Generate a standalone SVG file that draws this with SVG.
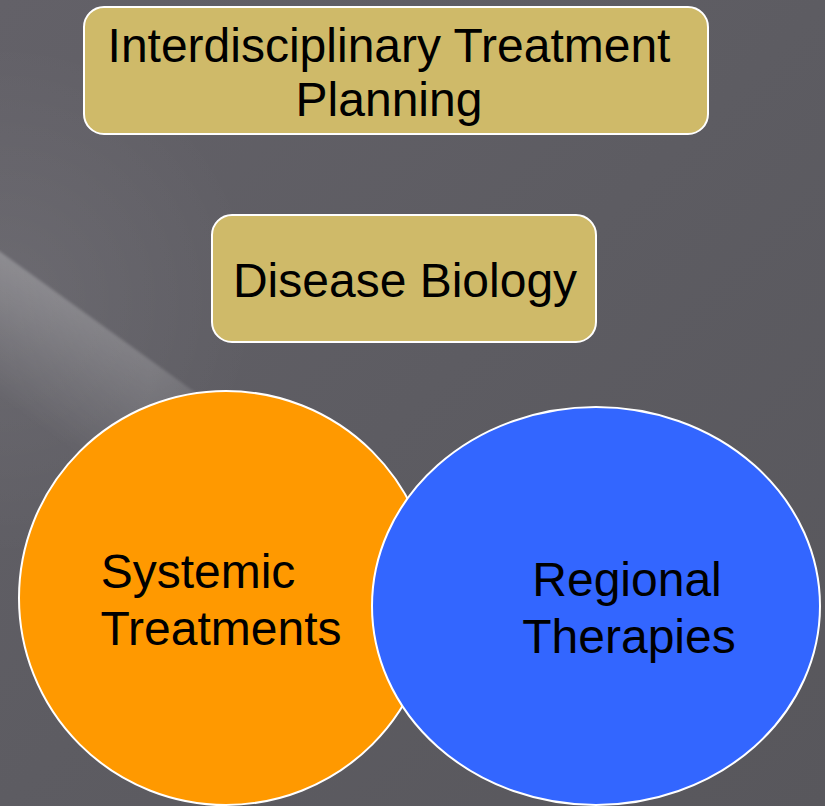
<svg xmlns="http://www.w3.org/2000/svg" width="825" height="806" viewBox="0 0 825 806">
  <defs>
    <linearGradient id="bg" x1="0" y1="0" x2="1" y2="1">
      <stop offset="0" stop-color="#636168"/>
      <stop offset="0.5" stop-color="#5d5c62"/>
      <stop offset="1" stop-color="#58575c"/>
    </linearGradient>
    <!-- soft light beam across the left edge -->
    <linearGradient id="beam" gradientUnits="userSpaceOnUse" x1="95" y1="322" x2="25" y2="418">
      <stop offset="0" stop-color="#ffffff" stop-opacity="0.24"/>
      <stop offset="0.5" stop-color="#ffffff" stop-opacity="0.11"/>
      <stop offset="1" stop-color="#ffffff" stop-opacity="0"/>
    </linearGradient>
    <linearGradient id="beamFade" gradientUnits="userSpaceOnUse" x1="0" y1="0" x2="270" y2="0">
      <stop offset="0" stop-color="#ffffff"/>
      <stop offset="0.55" stop-color="#ffffff" stop-opacity="0.75"/>
      <stop offset="1" stop-color="#ffffff" stop-opacity="0"/>
    </linearGradient>
    <mask id="beamMask">
      <rect x="0" y="0" width="825" height="806" fill="url(#beamFade)"/>
    </mask>
    <filter id="soft" x="-10%" y="-10%" width="120%" height="120%">
      <feGaussianBlur stdDeviation="1.5"/>
    </filter>
    <radialGradient id="glow" cx="0" cy="300" r="260" gradientUnits="userSpaceOnUse">
      <stop offset="0" stop-color="#ffffff" stop-opacity="0.07"/>
      <stop offset="1" stop-color="#ffffff" stop-opacity="0"/>
    </radialGradient>
  </defs>
  <style>
    .box { fill: #cfba69; stroke: #ffffff; stroke-width: 2; }
    .orb { stroke: #ffffff; stroke-width: 2; }
    .label { font-family: "Liberation Sans", Arial, sans-serif; font-size: 48px; fill: #000000; text-anchor: middle; }
  </style>

  <!-- background -->
  <rect x="0" y="0" width="825" height="806" fill="url(#bg)"/>
  <rect x="0" y="0" width="825" height="806" fill="url(#glow)"/>
  <g mask="url(#beamMask)">
    <polygon points="-30,230 300,468 -30,468" fill="url(#beam)" filter="url(#soft)"/>
  </g>

  <g id="interdisciplinary-planning">
    <rect class="box" x="84" y="7" width="624" height="127" rx="20" ry="20"/>
    <text class="label" x="389" y="62">Interdisciplinary Treatment</text>
    <text class="label" x="389" y="116">Planning</text>
  </g>

  <g id="disease-biology">
    <rect class="box" x="212" y="215" width="384" height="127" rx="20" ry="20"/>
    <text class="label" x="405" y="297">Disease Biology</text>
  </g>

  <g id="systemic-treatments">
    <ellipse class="orb" cx="226" cy="598" rx="207" ry="207" fill="#ff9900"/>
    <text class="label" x="198" y="588">Systemic</text>
    <text class="label" x="221" y="645">Treatments</text>
  </g>

  <g id="regional-therapies">
    <ellipse class="orb" cx="596" cy="606" rx="224" ry="199" fill="#3366ff"/>
    <text class="label" x="627" y="596">Regional</text>
    <text class="label" x="629" y="653">Therapies</text>
  </g>

  <g id="connectors"/>
</svg>
